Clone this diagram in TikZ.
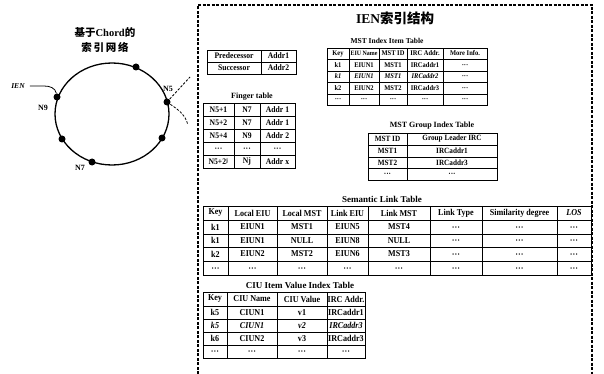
\documentclass[tikz,border=0pt]{standalone}
\usepackage{fontspec}
\setmainfont{Liberation Serif}
\newfontfamily\cjk{Noto Sans CJK SC}
\newfontfamily\tabf{Liberation Serif}[FakeStretch=0.9]
\newcommand\dts{\vphantom{Ak}···}
\newcommand\trow[4]{%
  \foreach \xa/\xb/\tx [count=\i] in {#4}{%
    \draw[tline] (\xa,#2) rectangle (\xb,#3);
    \node[ctext] (#1-\i) at ({(\xa+\xb)/2},{(#2+#3)/2}) {\tx};
  }}
\tikzset{
  tline/.style={line width=0.9pt},
  ctext/.style={inner sep=0pt, font=\tabf\bfseries\fontsize{7.5}{8}\selectfont},
  ttitle/.style={inner sep=0pt, font=\bfseries\fontsize{7.5}{8}\selectfont},
  ndot/.style={circle, fill=black, inner sep=0pt, minimum size=7pt},
  nlabel/.style={inner sep=0pt, font=\bfseries\fontsize{8}{9}\selectfont},
  frame/.style={line width=1.3pt, dash pattern=on 3pt off 1.5pt},
  hint/.style={line width=0.8pt, dash pattern=on 2.5pt off 1.5pt}
}
\begin{document}
\begin{tikzpicture}[x=1pt,y=-1pt]
\useasboundingbox (0,0) rectangle (604,374);
% ---- left: Chord ring ----
\node[font=\cjk\bfseries\fontsize{10.5}{12}\selectfont, inner sep=0pt] (lt1) at (105,33) {基于{\rmfamily\bfseries Chord}的};
\node[font=\cjk\bfseries\fontsize{10.5}{12}\selectfont, inner sep=0pt] (lt2) at (105,47) {索\,引\,网\,络};
\draw[line width=1.3pt] (112,114) ellipse (57 and 51);
\node[ndot] (d1) at (136,67) {};
\node[ndot] (d9) at (57,97) {};
\node[ndot] (d5) at (167,102) {};
\node[ndot] (d4) at (162,138) {};
\node[ndot] (d3) at (62,139) {};
\node[ndot] (d7) at (92,162) {};
\node[nlabel, font=\bfseries\itshape\fontsize{7.5}{9}\selectfont] (ien) at (18,86) {IEN};
\node[nlabel] (l9) at (43,108) {N9};
\node[nlabel] (l5) at (168,89) {N5};
\node[nlabel] (l7) at (80,168) {N7};
\draw[line width=0.8pt] (ien.east) ++(5,0) coordinate (ie) (ie) -- (44,86) to[out=0,in=100] (d9);
\coordinate (h1) at (190,77);
\coordinate (h2) at (188,125);
\draw[hint] (d5.center) -- (h1);
\draw[hint] (d5.center) to[out=-35,in=105] (h2);
% ---- right: frame ----
\draw[frame] (198,374) -- (198,5) -- (592,5) -- (592,374);
\node[font=\cjk\bfseries\fontsize{13.5}{15}\selectfont, inner sep=0pt] (title) at (395,18) {{\rmfamily\bfseries IEN}索引结构};
% predecessor / successor
\begin{scope}[ctext/.append style={font=\tabf\bfseries\fontsize{8.5}{9}\selectfont}]
\trow{pr1}{50}{62}{207/261/Predecessor, 261/296/Addr1}
\trow{pr2}{62}{74}{207/261/Successor, 261/296/Addr2}
\end{scope}
% finger table
\node[ttitle, font=\bfseries\fontsize{8}{9}\selectfont] (ftt) at (252,97) {Finger table};
\begin{scope}[ctext/.append style={font=\tabf\bfseries\fontsize{8.5}{9}\selectfont}]
\trow{f1}{103}{116}{203/234/N5+1, 234/260/N7, 260/295/Addr 1}
\trow{f2}{116}{129}{203/234/N5+2, 234/260/N7, 260/295/Addr 1}
\trow{f3}{129}{142}{203/234/N5+4, 234/260/N9, 260/295/Addr 2}
\trow{f4}{142}{155}{203/234/\dts, 234/260/\dts, 260/295/\dts}
\trow{f5}{155}{168}{203/234/N5+2\textsuperscript{j}, 234/260/Nj, 260/295/Addr x}
\end{scope}
% MST index item table
\node[ttitle] (mitt) at (387,41) {MST Index Item Table};
\begin{scope}[ctext/.append style={font=\tabf\bfseries\fontsize{7.2}{8}\selectfont}]
\trow{mi0}{48}{59}{327/349/Key, 349/379/{\fontsize{6.6}{8}\selectfont EIU Name}, 379/407/MST ID, 407/443/IRC Addr., 443/487/More Info.}
\trow{mi1}{59}{71}{327/349/k1, 349/379/EIUN1, 379/407/MST1, 407/443/IRCaddr1, 443/487/\dts}
\trow{mi2}{71}{82}{327/349/\textit{k1}, 349/379/\textit{EIUN1}, 379/407/\textit{MST1}, 407/443/\textit{IRCaddr2}, 443/487/\dts}
\trow{mi3}{82}{94}{327/349/k2, 349/379/EIUN2, 379/407/MST2, 407/443/IRCaddr3, 443/487/\dts}
\trow{mi4}{94}{105}{327/349/\dts, 349/379/\dts, 379/407/\dts, 407/443/\dts, 443/487/\dts}
\end{scope}
% MST group index table
\node[ttitle, font=\bfseries\fontsize{8}{9}\selectfont] (mgtt) at (432,126) {MST Group Index Table};
\begin{scope}[ctext/.append style={font=\tabf\bfseries\fontsize{8}{9}\selectfont}]
\trow{mg0}{133}{145}{368/407/MST ID, 407/497/Group Leader IRC}
\trow{mg1}{145}{157}{368/407/MST1, 407/497/IRCaddr1}
\trow{mg2}{157}{168}{368/407/MST2, 407/497/IRCaddr3}
\trow{mg3}{168}{180}{368/407/\dts, 407/497/\dts}
\end{scope}
% semantic link table
\node[ttitle, font=\bfseries\fontsize{9}{10}\selectfont] (sltt) at (382,199) {Semantic Link Table};
\begin{scope}[ctext/.append style={font=\tabf\bfseries\fontsize{9}{10}\selectfont}]
\trow{sl0}{206}{220}{203/228/Key, 228/277/Local EIU, 277/327/Local MST, 327/368/Link EIU, 368/430/Link MST, 430/482/Link Type, 482/557/Similarity degree, 557/591/\textit{LOS}}
\trow{sl1}{220}{234}{203/228/k1, 228/277/EIUN1, 277/327/MST1, 327/368/EIUN5, 368/430/MST4, 430/482/\dts, 482/557/\dts, 557/591/\dts}
\trow{sl2}{234}{247}{203/228/k1, 228/277/EIUN1, 277/327/NULL, 327/368/EIUN8, 368/430/NULL, 430/482/\dts, 482/557/\dts, 557/591/\dts}
\trow{sl3}{247}{261}{203/228/k2, 228/277/EIUN2, 277/327/MST2, 327/368/EIUN6, 368/430/MST3, 430/482/\dts, 482/557/\dts, 557/591/\dts}
\trow{sl4}{261}{275}{203/228/\dts, 228/277/\dts, 277/327/\dts, 327/368/\dts, 368/430/\dts, 430/482/\dts, 482/557/\dts, 557/591/\dts}
\end{scope}
% CIU item value index table
\node[ttitle, font=\bfseries\fontsize{9}{10}\selectfont] (citt) at (300,285) {CIU Item Value Index Table};
\begin{scope}[ctext/.append style={font=\tabf\bfseries\fontsize{9}{10}\selectfont}]
\trow{ci0}{292}{306}{203/227/Key, 227/277/CIU Name, 277/327/CIU Value, 327/365/IRC Addr.}
\trow{ci1}{306}{319}{203/227/k5, 227/277/CIUN1, 277/327/v1, 327/365/IRCaddr1}
\trow{ci2}{319}{332}{203/227/\textit{k5}, 227/277/\textit{CIUN1}, 277/327/\textit{v2}, 327/365/\textit{IRCaddr3}}
\trow{ci3}{332}{345}{203/227/k6, 227/277/CIUN2, 277/327/v3, 327/365/IRCaddr3}
\trow{ci4}{345}{358}{203/227/\dts, 227/277/\dts, 277/327/\dts, 327/365/\dts}
\end{scope}
\end{tikzpicture}
\end{document}
